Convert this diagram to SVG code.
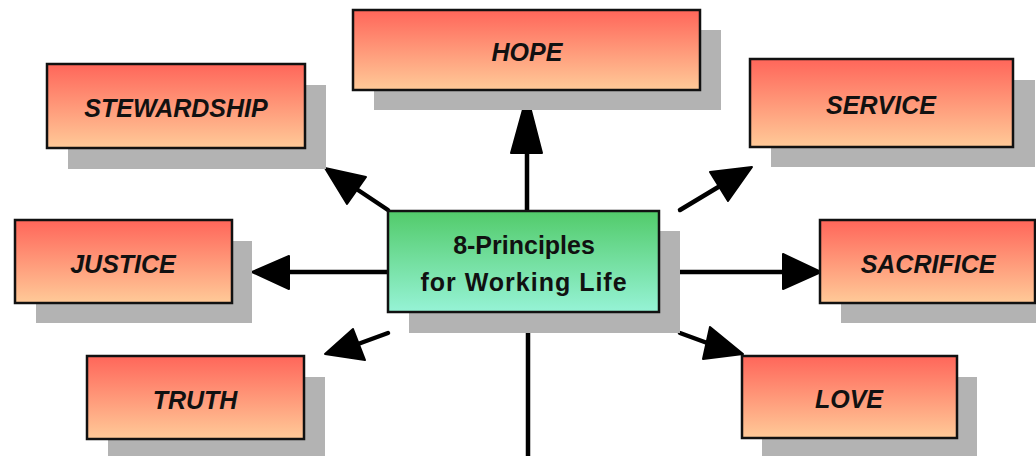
<svg xmlns="http://www.w3.org/2000/svg" width="1036" height="456" viewBox="0 0 1036 456">
<defs>
<linearGradient id="red" x1="0" y1="0" x2="0" y2="1">
<stop offset="0" stop-color="#FF665A"/>
<stop offset="1" stop-color="#FFCA98"/>
</linearGradient>
<linearGradient id="green" x1="0" y1="0" x2="0" y2="1">
<stop offset="0" stop-color="#52CB6A"/>
<stop offset="1" stop-color="#96F3D6"/>
</linearGradient>
</defs>
<style>
.sh{fill:#B3B3B3}
.bx{fill:url(#red);stroke:#111;stroke-width:2.5}
.cb{fill:url(#green);stroke:#111;stroke-width:2.5}
.lb{font-family:"Liberation Sans",Arial,sans-serif;font-weight:bold;font-style:italic;font-size:25px;fill:#111;text-anchor:middle}
.ct{font-family:"Liberation Sans",Arial,sans-serif;font-weight:bold;font-size:25px;fill:#111;text-anchor:middle}
.ln{stroke:#000;stroke-width:4.5;stroke-linecap:round;fill:none}
.ah{fill:#000;stroke:#000;stroke-width:2;stroke-linejoin:round}
</style>
<rect width="1036" height="456" fill="#fff"/>
<g id="connectors">
<line class="ln" x1="527" y1="211" x2="527" y2="150"/>
<polygon class="ah" points="527,95 511,153 542,153"/>
<line class="ln" x1="388" y1="210" x2="358" y2="190"/>
<polygon class="ah" points="325,168 366,177 347,204"/>
<line class="ln" x1="388" y1="272" x2="286" y2="272"/>
<polygon class="ah" points="252,272 289,256 289,289"/>
<line class="ln" x1="388" y1="333" x2="358" y2="344"/>
<polygon class="ah" points="325,354 353,329 365,360"/>
<line class="ln" x1="680" y1="210" x2="720" y2="186"/>
<polygon class="ah" points="752,167 710,172 728,201"/>
<line class="ln" x1="680" y1="272" x2="786" y2="272"/>
<polygon class="ah" points="821,272 783,254 783,289"/>
<line class="ln" x1="680" y1="333" x2="710" y2="344"/>
<polygon class="ah" points="743,354 710,327 703,359"/>
<line class="ln" x1="528" y1="333" x2="528" y2="460"/>
</g>
<g id="center">
<rect class="sh" x="409" y="231" width="271" height="102"/>
<rect class="cb" x="388" y="211" width="271" height="101"/>
<text class="ct" x="524" y="254">8-Principles</text>
<text class="ct" x="524" y="291" letter-spacing="1">for Working Life</text>
</g>
<g id="hope">
<rect class="sh" x="374" y="30" width="347" height="80"/>
<rect class="bx" x="353" y="10" width="347" height="80"/>
<text class="lb" x="527" y="61">HOPE</text>
</g>
<g id="stewardship">
<rect class="sh" x="68" y="85" width="258" height="84"/>
<rect class="bx" x="47" y="64" width="258" height="84"/>
<text class="lb" x="176" y="117">STEWARDSHIP</text>
</g>
<g id="service">
<rect class="sh" x="771" y="80" width="264" height="87"/>
<rect class="bx" x="750" y="59" width="263" height="88"/>
<text class="lb" x="881" y="114">SERVICE</text>
</g>
<g id="justice">
<rect class="sh" x="36" y="241" width="216" height="82"/>
<rect class="bx" x="15" y="220" width="217" height="83"/>
<text class="lb" x="123" y="273">JUSTICE</text>
</g>
<g id="truth">
<rect class="sh" x="108" y="377" width="217" height="83"/>
<rect class="bx" x="87" y="356" width="217" height="83"/>
<text class="lb" x="195" y="409">TRUTH</text>
</g>
<g id="sacrifice">
<rect class="sh" x="841" y="241" width="200" height="82"/>
<rect class="bx" x="820" y="220" width="215" height="83"/>
<text class="lb" x="928" y="273">SACRIFICE</text>
</g>
<g id="love">
<rect class="sh" x="762" y="377" width="215" height="83"/>
<rect class="bx" x="742" y="356" width="215" height="82"/>
<text class="lb" x="849" y="408">LOVE</text>
</g>
</svg>
